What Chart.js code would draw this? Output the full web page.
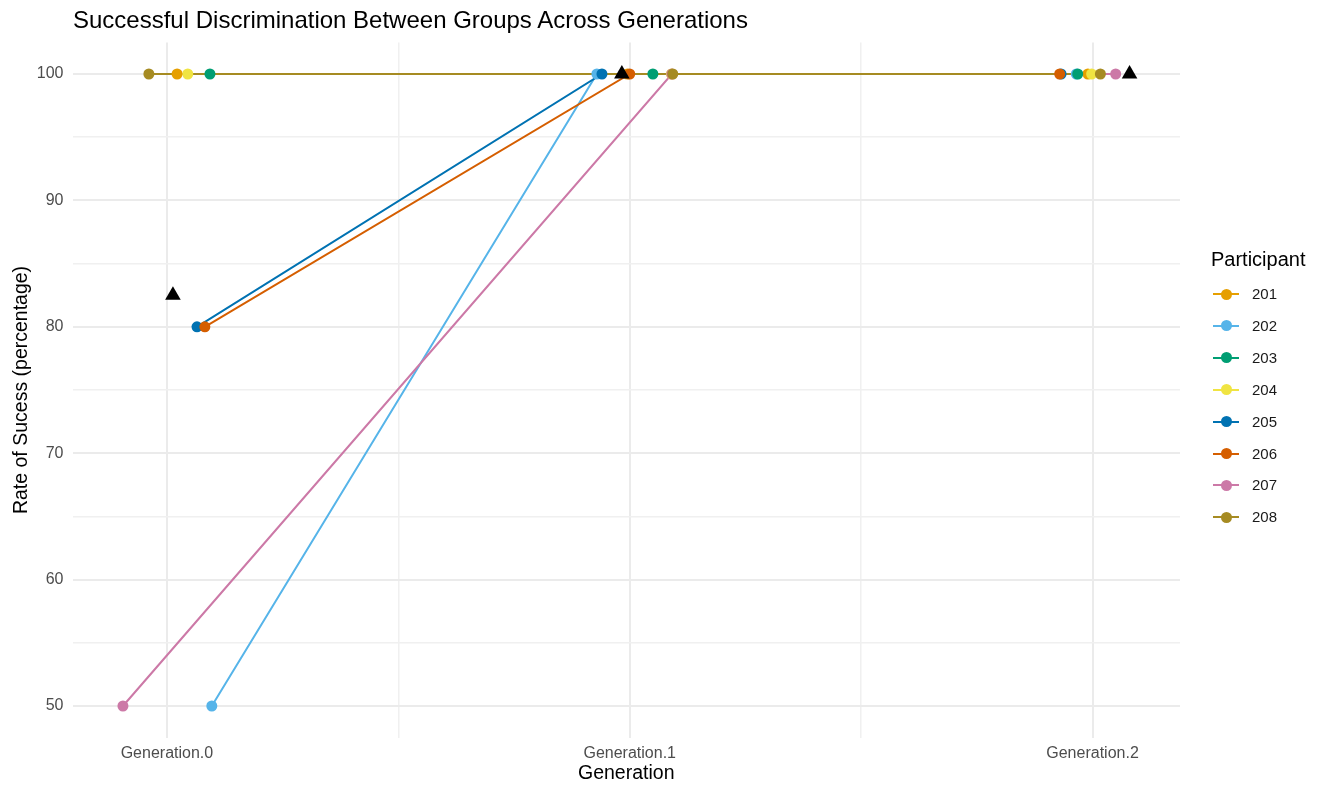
<!DOCTYPE html>
<html>
<head>
<meta charset="utf-8">
<script src="https://cdn.jsdelivr.net/npm/chart.js@4.4.1/dist/chart.umd.min.js"></script>
<style>
  body { margin: 0; background: #fff; font-family: "Liberation Sans", Arial, Helvetica, sans-serif; }
  #wrap { position: relative; width: 1323px; height: 785px; }
  #title { position: absolute; left: 73px; top: 5px; font-size: 24px; line-height: 30px; color: #000; white-space: nowrap; }
  #legend { position: absolute; left: 1200px; top: 245px; }
  #legend .ttl { position: absolute; left: 11px; top: 0; font-size: 20px; line-height: 28px; white-space: nowrap; }
  #legend .item { position: absolute; left: 13px; height: 20px; width: 100px; }
  #legend .key { position: absolute; left: 0; top: 9px; width: 26px; height: 2px; }
  #legend .dot { position: absolute; left: 7.5px; top: 4.5px; width: 11px; height: 11px; border-radius: 50%; }
  #legend .lab { position: absolute; left: 39px; top: 1px; font-size: 15px; line-height: 18px; color: #1a1a1a; }
</style>
</head>
<body>
<div id="wrap">
  <canvas id="chart" width="1323" height="785"></canvas>
  <div id="title">Successful Discrimination Between Groups Across Generations</div>
  <div id="legend"><div class="ttl">Participant</div></div>
</div>
<script>
// participants and colours
const participants = ['201', '202', '203', '204', '205', '206', '207', '208']
const colors = ['#E69F00', '#56B4E9', '#009E73', '#F0E442', '#0072B2', '#D55E00', '#CC79A7', '#A68B22']
const generations = ['Generation.0', 'Generation.1', 'Generation.2']

// success rate per generation (one value per participant)
const rateGen0 = [100, 50, 100, 100, 80, 80, 50, 100]
const rateGen1 = [100, 100, 100, 100, 100, 100, 100, 100]
const rateGen2 = [100, 100, 100, 100, 100, 100, 100, 100]

// jittered x positions
const xGen0 = [0.022, 0.097, 0.093, 0.045, 0.065, 0.082, -0.095, -0.039]
const xGen1 = [0.995, 0.929, 1.050, 1.090, 0.940, 1.000, 1.091, 1.093]
const xGen2 = [1.990, 1.965, 1.968, 1.998, 1.932, 1.929, 2.050, 2.017]

// group means (black triangles)
const meanX = [0.013, 0.983, 2.080]
const meanRate = [82.5, 100, 100]

const datasets = []
participants.forEach((p, i) => {
    const pts = [
        {x: xGen0[i], y: rateGen0[i]},
        {x: xGen1[i], y: rateGen1[i]},
        {x: xGen2[i], y: rateGen2[i]}
    ]
    // lines below all points
    datasets.push({
        label: p + ' line',
        data: pts,
        showLine: true,
        borderColor: colors[i],
        borderWidth: 2,
        pointRadius: 0,
        order: 100 - i
    })
    datasets.push({
        label: p,
        data: pts,
        showLine: false,
        backgroundColor: colors[i],
        borderColor: colors[i],
        borderWidth: 0,
        pointRadius: 5.5,
        order: 50 - i
    })
})
datasets.push({
    label: 'mean',
    data: meanX.map((x, i) => ({x: x, y: meanRate[i]})),
    showLine: false,
    pointStyle: 'triangle',
    pointRadius: 9,
    backgroundColor: '#000',
    borderColor: '#000',
    borderWidth: 0,
    order: 0
})

const tickFont = {family: '"Liberation Sans", Arial, sans-serif', size: 16}
const titleFont = {family: '"Liberation Sans", Arial, sans-serif', size: 19.5}

const config = {
    type: 'scatter',
    data: {datasets: datasets},
    options: {
        responsive: false,
        animation: false,
        layout: {padding: {left: 0, top: 42.4, right: 143, bottom: 0}},
        plugins: {legend: {display: false}, tooltip: {enabled: false}},
        scales: {
            x: {
                type: 'linear',
                min: -0.204,
                max: 2.189,
                afterBuildTicks: s => { s.ticks = [0, 0.5, 1, 1.5, 2].map(v => ({value: v})) },
                afterFit: s => { s.height = 47.4 },
                border: {display: false},
                grid: {
                    drawTicks: false,
                    color: c => Number.isInteger(c.tick.value) ? '#EBEBEB' : '#F0F0F0',
                    lineWidth: c => Number.isInteger(c.tick.value) ? 2 : 1.5
                },
                ticks: {
                    padding: 6,
                    color: '#4D4D4D',
                    font: tickFont,
                    maxRotation: 0,
                    autoSkip: false,
                    callback: v => Number.isInteger(v) ? generations[v] : ''
                },
                title: {display: true, text: 'Generation', color: '#000', font: titleFont, padding: {top: 0, bottom: 0}}
            },
            y: {
                min: 47.5,
                max: 102.5,
                afterBuildTicks: s => { s.ticks = [50, 55, 60, 65, 70, 75, 80, 85, 90, 95, 100].map(v => ({value: v})) },
                afterFit: s => { s.width = 72.5 },
                border: {display: false},
                grid: {
                    drawTicks: false,
                    color: c => c.tick.value % 10 === 0 ? '#EBEBEB' : '#F0F0F0',
                    lineWidth: c => c.tick.value % 10 === 0 ? 2 : 1.5
                },
                ticks: {
                    padding: 9,
                    color: '#4D4D4D',
                    font: tickFont,
                    autoSkip: false,
                    callback: v => v % 10 === 0 ? v : ''
                },
                title: {display: true, text: 'Rate of Sucess (percentage)', color: '#000', font: titleFont, padding: {top: 10, bottom: 0}}
            }
        }
    }
}

var chart = new Chart(document.getElementById('chart'), config)

// legend
const legend = document.getElementById('legend')
participants.forEach((p, i) => {
    const item = document.createElement('div')
    item.className = 'item'
    item.style.top = (39 + i * 31.9) + 'px'
    item.innerHTML = '<div class="key" style="background:' + colors[i] + '"></div>' +
        '<div class="dot" style="background:' + colors[i] + '"></div>' +
        '<div class="lab">' + p + '</div>'
    legend.appendChild(item)
})
</script>
</body>
</html>
